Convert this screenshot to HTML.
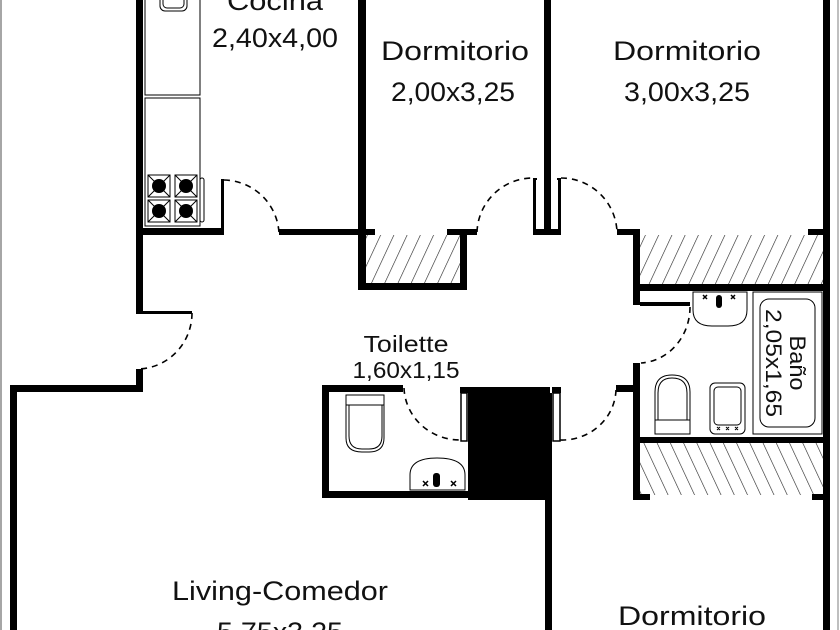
<!DOCTYPE html>
<html><head><meta charset="utf-8"><style>
html,body{margin:0;padding:0;background:#fff;width:840px;height:630px;overflow:hidden}
svg{display:block}
text{font-family:"Liberation Sans",sans-serif;fill:#111}
</style></head><body>
<svg width="840" height="630" viewBox="0 0 840 630" xmlns="http://www.w3.org/2000/svg">
<defs>
<pattern id="h1" width="12" height="12" patternUnits="userSpaceOnUse" patternTransform="rotate(25)">
<line x1="0" y1="0" x2="0" y2="12" stroke="#222" stroke-width="1.2"/></pattern>
<pattern id="h2" width="12" height="12" patternUnits="userSpaceOnUse" patternTransform="rotate(-25)">
<line x1="0" y1="0" x2="0" y2="12" stroke="#222" stroke-width="1.2"/></pattern>
</defs>
<line x1="1" y1="0" x2="1" y2="630" stroke="#888" stroke-width="1.5"/>
<line x1="838" y1="0" x2="838" y2="630" stroke="#aaa" stroke-width="1.5"/>

<rect x="366" y="235" width="94" height="49" fill="url(#h1)"/>
<rect x="640" y="235" width="183" height="49" fill="url(#h1)"/>
<rect x="640" y="443" width="183" height="52" fill="url(#h2)"/>

<g fill="#000">
<rect x="136" y="0" width="7" height="313"/>
<rect x="136" y="311" width="56" height="3"/>
<rect x="143" y="228" width="80" height="7"/>
<rect x="221" y="179" width="3" height="56"/>
<rect x="279" y="229" width="96" height="6"/>
<rect x="358" y="0" width="8" height="290"/>
<rect x="358" y="283" width="109" height="7"/>
<rect x="460" y="229" width="7" height="61"/>
<rect x="447" y="229" width="30" height="6"/>
<rect x="544" y="0" width="7" height="235"/>
<rect x="533" y="229" width="28" height="6"/>
<rect x="533" y="178" width="3" height="57"/>
<rect x="558" y="178" width="3" height="57"/>
<rect x="533" y="178" width="4" height="2"/>
<rect x="557" y="178" width="4" height="2"/>
<rect x="617" y="229" width="23" height="6"/>
<rect x="633" y="229" width="7" height="76"/>
<rect x="640" y="284" width="183" height="7"/>
<rect x="808" y="229" width="15" height="6"/>
<rect x="823" y="0" width="7" height="630"/>
<rect x="640" y="302" width="50" height="4"/>
<rect x="633" y="363" width="7" height="137"/>
<rect x="616" y="385" width="17" height="7"/>
<rect x="640" y="437" width="183" height="6"/>
<rect x="633" y="494" width="17" height="6"/>
<rect x="812" y="494" width="11" height="6"/>
<rect x="10" y="385" width="7" height="245"/>
<rect x="10" y="385" width="133" height="7"/>
<rect x="136" y="369" width="7" height="23"/>
<rect x="322" y="385" width="7" height="113"/>
<rect x="322" y="385" width="81" height="7"/>
<rect x="322" y="491" width="148" height="7"/>
<rect x="460" y="387" width="90" height="6"/>
<rect x="468" y="393" width="77" height="107"/>
<rect x="545" y="393" width="7" height="237"/>
<rect x="552" y="387" width="9" height="6"/>
</g>
<rect x="461" y="393" width="6" height="48" fill="#fff" stroke="#000" stroke-width="1.5"/>
<rect x="553" y="393" width="7" height="48" fill="#fff" stroke="#000" stroke-width="1.5"/>

<g fill="none" stroke="#000" stroke-width="1.6" stroke-dasharray="6,5">
<path d="M224 180 A56 56 0 0 1 279 233"/>
<path d="M477 232 A56 56 0 0 1 533 178"/>
<path d="M561 178 A56 56 0 0 1 617 232"/>
<path d="M690 307 A52 56 0 0 1 641 363"/>
<path d="M616 390 A54 52 0 0 1 560 440"/>
<path d="M404 388 A56 54 0 0 0 460 440"/>
<path d="M192 313 A55 56 0 0 1 137 369"/>
</g>

<g fill="none" stroke="#000" stroke-width="1">
<rect x="145" y="-5" width="55" height="100"/>
<rect x="160" y="-5" width="27" height="16" rx="5"/>
<rect x="163" y="-5" width="21" height="13" rx="4"/>
<rect x="145" y="98" width="55" height="128"/>
<rect x="200" y="178" width="4" height="44" rx="2"/>
<rect x="148" y="175" width="22" height="22"/><rect x="175" y="175" width="22" height="22"/>
<rect x="148" y="200" width="22" height="22"/><rect x="175" y="200" width="22" height="22"/>
<path d="M148 175l22 22M170 175l-22 22M175 175l22 22M197 175l-22 22M148 200l22 22M170 200l-22 22M175 200l22 22M197 200l-22 22"/>
</g>
<g fill="#000"><circle cx="159" cy="186" r="7"/><circle cx="186" cy="186" r="7"/><circle cx="159" cy="211" r="7"/><circle cx="186" cy="211" r="7"/></g>

<g fill="none" stroke="#000" stroke-width="1">
<rect x="346" y="395" width="38" height="10"/>
<path d="M349 405 V436 Q349 449 362 449 H369 Q382 449 382 436 V405"/>
<path d="M346 405 V438 Q346 452 362 452 H369 Q384 452 384 438 V405"/>
<path d="M410 490 V475 Q410 458 437 458 Q465 458 465 475 V490 Z"/>
<path d="M693 292 H747 V310 Q747 326 728 326 H712 Q693 326 693 310 Z"/>
<rect x="753" y="292" width="69" height="142"/>
<rect x="760" y="299" width="55" height="128" rx="9"/>
<path d="M658 420 V393 Q658 378 672 378 Q687 378 687 393 V420"/>
<path d="M655 420 V392 Q655 375 672 375 Q690 375 690 392 V420"/>
<rect x="655" y="420" width="35" height="14"/>
<rect x="710" y="383" width="35" height="51" rx="5"/>
<rect x="714" y="387" width="27" height="38" rx="4"/>
</g>
<g fill="#000">
<rect x="433" y="473" width="7" height="14" rx="3"/>
<rect x="716" y="295" width="6" height="13" rx="3"/>
</g>
<g stroke="#000" stroke-width="1.5">
<path d="M423 481l5 5M428 481l-5 5M451 481l5 5M456 481l-5 5"/>
<path d="M703 295l4 4M707 295l-4 4M731 295l4 4M735 295l-4 4"/>
</g>
<g stroke="#000" stroke-width="1"><path d="M717 427l3 3M720 427l-3 3M726 427l3 3M729 427l-3 3M735 427l3 3M738 427l-3 3"/></g>

<g font-size="27" text-anchor="middle">
<text x="275" y="10" textLength="96" lengthAdjust="spacingAndGlyphs">Cocina</text>
<text x="275" y="47" textLength="126" lengthAdjust="spacingAndGlyphs">2,40x4,00</text>
<text x="455" y="60" textLength="148" lengthAdjust="spacingAndGlyphs">Dormitorio</text>
<text x="453" y="101" textLength="124" lengthAdjust="spacingAndGlyphs">2,00x3,25</text>
<text x="687" y="60" textLength="148" lengthAdjust="spacingAndGlyphs">Dormitorio</text>
<text x="687" y="101" textLength="126" lengthAdjust="spacingAndGlyphs">3,00x3,25</text>
<text x="280" y="600" textLength="216" lengthAdjust="spacingAndGlyphs">Living-Comedor</text>
<text x="280" y="641" textLength="126" lengthAdjust="spacingAndGlyphs">5,75x3,25</text>
<text x="692" y="625" textLength="148" lengthAdjust="spacingAndGlyphs">Dormitorio</text>
</g>
<g font-size="23" text-anchor="middle">
<text x="406" y="352" textLength="85" lengthAdjust="spacingAndGlyphs">Toilette</text>
<text x="406" y="378" textLength="107" lengthAdjust="spacingAndGlyphs">1,60x1,15</text>
</g>
<g font-size="22" text-anchor="middle">
<text transform="translate(790,363) rotate(90)" textLength="55" lengthAdjust="spacingAndGlyphs">Baño</text>
<text transform="translate(766,363) rotate(90)" textLength="108" lengthAdjust="spacingAndGlyphs">2,05x1,65</text>
</g>
</svg>
</body></html>
